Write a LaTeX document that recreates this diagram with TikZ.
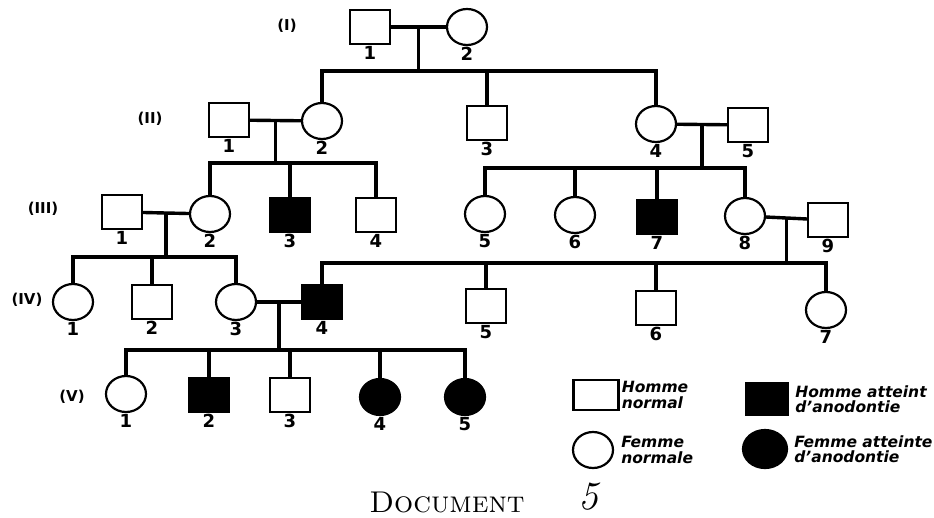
\documentclass[tikz,border=0pt]{standalone}
\usepackage{fontspec}
\newfontfamily\numfont{DejaVu Sans}
\usetikzlibrary{shapes,positioning}
\usetikzlibrary{calc}

\begin{document}
\begin{tikzpicture}[x=1pt,y=-1pt,
man/.style={
% The shape:
rectangle,
% The size:
minimum width=40pt, minimum height=34pt,
% The border:
line width=2.2pt,
draw=black,
% The filling:
fill=white,
% The number below
label distance=6pt
},
woman/.style={
% The shape:
ellipse,
% The size:
minimum width=40pt, minimum height=36pt,
% The border:
line width=2.2pt,
draw=black,
% The filling:
fill=white,
label distance=6pt
},
ill/.style={fill=black},
num/.style={font=\numfont\bfseries\fontsize{18}{18}\selectfont, inner sep=1pt},
gen/.style={font=\numfont\bfseries\fontsize{15}{15}\selectfont},
link/.style={line width=3.4pt},
legend/.style={align=left, anchor=west, inner sep=0pt,
font=\numfont\bfseries\itshape\fontsize{15.5}{15.5}\selectfont}]

\useasboundingbox (0,0) rectangle (934,517);

% generation labels
\node (g1) [gen] at (287,26) {(I)};
\node (g2) [gen] at (150,119) {(II)};
\node (g3) [gen] at (43,209) {(III)};
\node (g4) [gen] at (27,300) {(IV)};
\node (g5) [gen] at (72,397) {(V)};

% generation I
\node (i1) [man, label={[num]below:1}] at (370,27) {};
\node (i2) [woman, label={[num]below:2}] at (467,27) {};

% generation II
\node (ii1) [man, label={[num]below:1}] at (229,120) {};
\node (ii2) [woman, label={[num]below:2}] at (322,121) {};
\node (ii3) [man, label={[num]below:3}] at (487,123) {};
\node (ii4) [woman, label={[num]below:4}] at (656,124) {};
\node (ii5) [man, label={[num]below:5}] at (748,125) {};

% generation III
\node (iii1) [man, label={[num]below:1}] at (122,212) {};
\node (iii2) [woman, label={[num]below:2}] at (210,214) {};
\node (iii3) [man, ill, label={[num]below:3}] at (290,215) {};
\node (iii4) [man, label={[num]below:4}] at (376,215) {};
\node (iii5) [woman, label={[num]below:5}] at (485,214) {};
\node (iii6) [woman, label={[num]below:6}] at (575,215) {};
\node (iii7) [man, ill, label={[num]below:7}] at (657,217) {};
\node (iii8) [woman, label={[num]below:8}] at (745,216) {};
\node (iii9) [man, label={[num]below:9}] at (828,220) {};

% generation IV
\node (iv1) [woman, label={[num]below:1}] at (73,302) {};
\node (iv2) [man, label={[num]below:2}] at (152,302) {};
\node (iv3) [woman, label={[num]below:3}] at (236,302) {};
\node (iv4) [man, ill, label={[num]below:4}] at (322,302) {};
\node (iv5) [man, label={[num]below:5}] at (486,306) {};
\node (iv6) [man, label={[num]below:6}] at (656,308) {};
\node (iv7) [woman, label={[num]below:7}] at (826,310) {};

% generation V
\node (v1) [woman, label={[num]below:1}] at (126,394) {};
\node (v2) [man, ill, label={[num]below:2}] at (209,395) {};
\node (v3) [man, label={[num]below:3}] at (290,395) {};
\node (v4) [woman, ill, label={[num]below:4}] at (380,397) {};
\node (v5) [woman, ill, label={[num]below:5}] at (465,397) {};

% couples and sibships
\coordinate (f1) at ($(i1)!0.5!(i2)$);
\coordinate (s1) at (f1 |- 0,71);
\coordinate (f2) at ($(ii1)!0.5!(ii2)$);
\coordinate (s2) at (f2 |- 0,163);
\coordinate (f3) at ($(ii4)!0.5!(ii5)$);
\coordinate (s3) at (f3 |- 0,168);
\coordinate (f4) at ($(iii1)!0.5!(iii2)$);
\coordinate (s4) at (f4 |- 0,257);
\coordinate (f5) at ($(iii8)!0.5!(iii9)$);
\coordinate (s5) at (f5 |- 0,263);
\coordinate (f6) at ($(iv3)!0.5!(iv4)$);
\coordinate (s6) at (f6 |- 0,350);

\path[link] (i1) edge (i2) (f1) edge (s1);
\draw[link] (ii2) |- (s1);
\draw[link] (ii3) |- (s1);
\draw[link] (ii4) |- (s1);

\path[link] (ii1) edge (ii2) (f2) edge (s2);
\draw[link] (iii2) |- (s2);
\draw[link] (iii3) |- (s2);
\draw[link] (iii4) |- (s2);

\path[link] (ii4) edge (ii5) (f3) edge (s3);
\draw[link] (iii5) |- (s3);
\draw[link] (iii6) |- (s3);
\draw[link] (iii7) |- (s3);
\draw[link] (iii8) |- (s3);

\path[link] (iii1) edge (iii2) (f4) edge (s4);
\draw[link] (iv1) |- (s4);
\draw[link] (iv2) |- (s4);
\draw[link] (iv3) |- (s4);

\path[link] (iii8) edge (iii9) (f5) edge (s5);
\draw[link] (iv4) |- (s5);
\draw[link] (iv5) |- (s5);
\draw[link] (iv6) |- (s5);
\draw[link] (iv7) |- (s5);

\path[link] (iv3) edge (iv4) (f6) edge (s6);
\draw[link] (v1) |- (s6);
\draw[link] (v2) |- (s6);
\draw[link] (v3) |- (s6);
\draw[link] (v4) |- (s6);
\draw[link] (v5) |- (s6);

% legend
\node (lg1) [man, minimum width=45pt, minimum height=30pt] at (596,395) {};
\node (lt1) [legend, right=2pt of lg1] {Homme\\normal};
\node (lg2) [man, ill, minimum width=42pt, minimum height=32pt] at (767,399) {};
\node (lt2) [legend, right=6pt of lg2] {Homme atteint\\d’anodontie};
\node (lg3) [woman] at (593,450) {};
\node (lt3) [legend, right=7pt of lg3] {Femme\\normale};
\node (lg4) [woman, ill, minimum width=44pt, minimum height=38pt] at (765,449) {};
\node (lt4) [legend, right=6pt of lg4] {Femme atteinte\\d’anodontie};

% caption
\node (doc) [font=\fontsize{30}{30}\selectfont] at (447,502) {\textsc{Document}};
\node (docnum) [inner sep=0pt, font=\fontsize{40}{40}\selectfont\itshape] at (588,497) {5};
\end{tikzpicture}
\end{document}
